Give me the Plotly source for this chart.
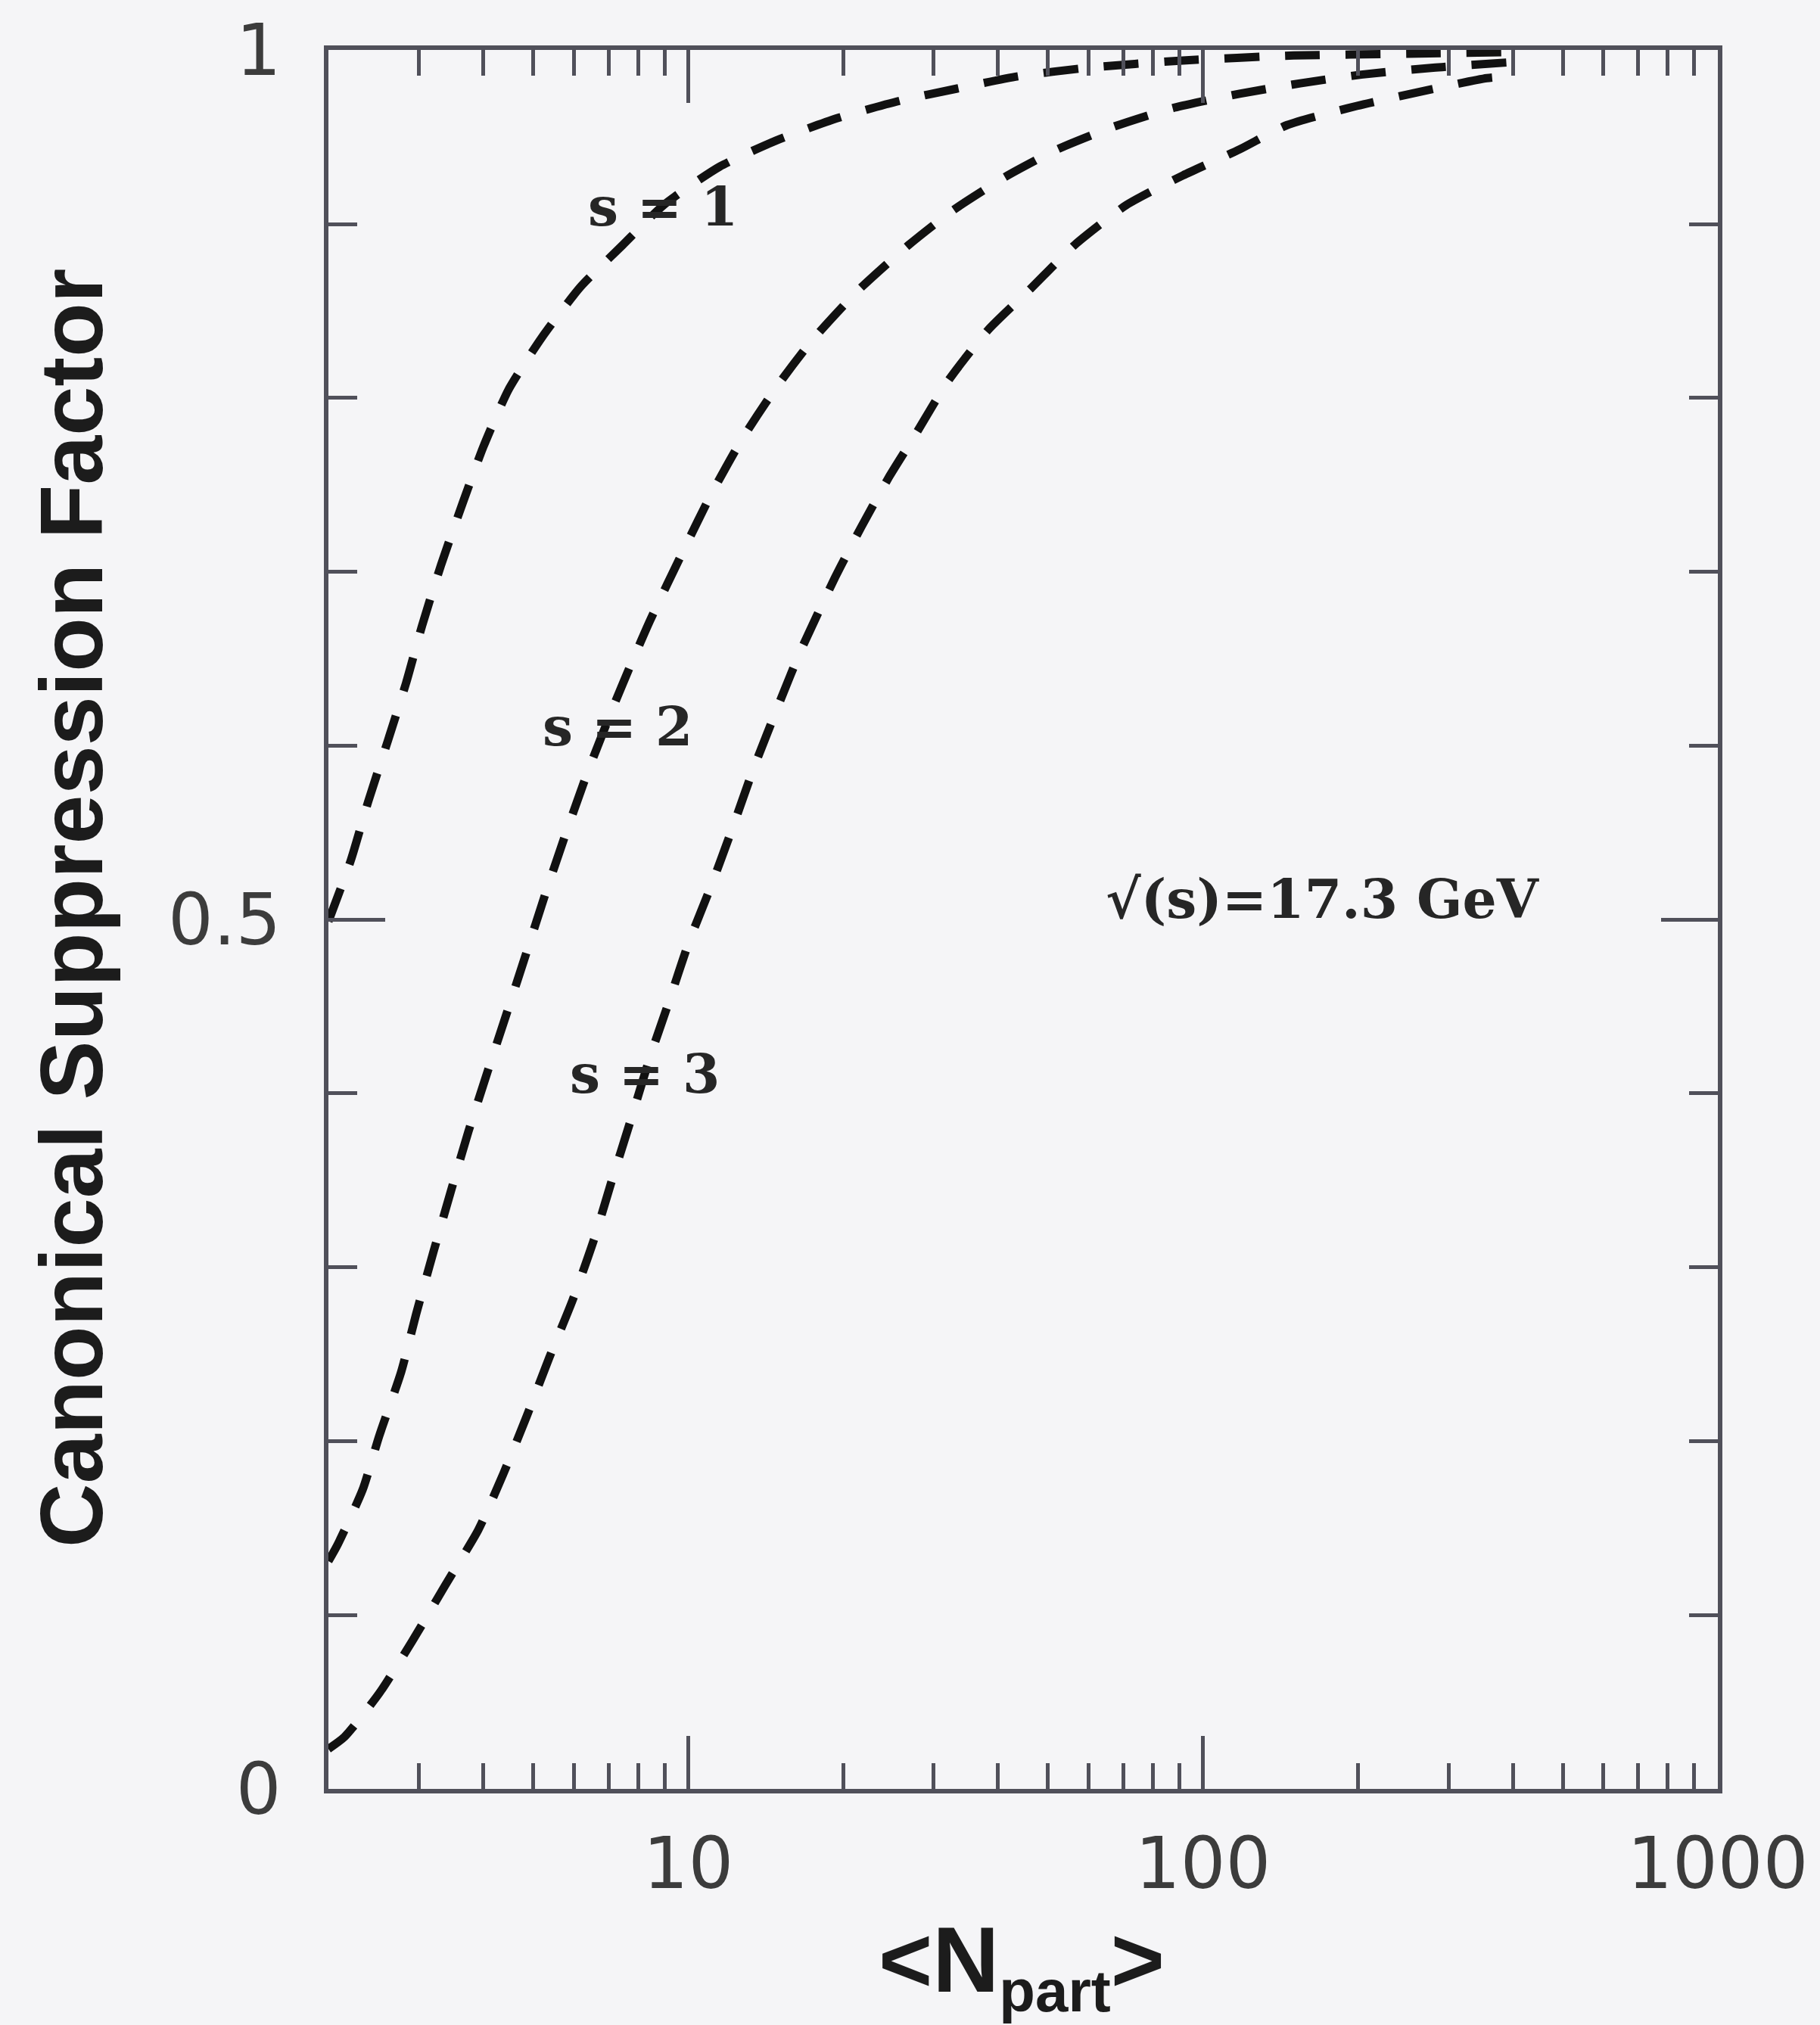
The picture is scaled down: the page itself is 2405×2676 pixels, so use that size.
import math
import plotly.graph_objects as go

# Canonical suppression factor vs. number of participants, sqrt(s)=17.3 GeV
n_part_s1 = [2.0, 2.21, 2.39, 2.61, 2.83, 3.04, 3.31, 3.64, 4.0, 4.48, 5.2, 6.18,
             7.46, 8.96, 11.5, 14.8, 19.5, 25.8, 33.3, 43.7, 60, 90, 150, 250, 390]
supp_s1 = [0.499, 0.534, 0.568, 0.603, 0.636, 0.669, 0.704, 0.739, 0.772, 0.805,
           0.835, 0.864, 0.888, 0.911, 0.933, 0.948, 0.961, 0.971, 0.978, 0.985,
           0.990, 0.994, 0.997, 0.998, 0.999]

n_part_s2 = [2.0, 2.08, 2.33, 2.51, 2.77, 2.96, 3.20, 3.46, 3.74, 4.08, 4.45, 4.85,
             5.28, 5.76, 6.38, 7.21, 7.72, 8.43, 9.85, 11.1, 12.7, 14.9, 17.5, 21.4,
             26.8, 32.7, 41.2, 52.1, 67.0, 87.9, 117.8, 154.5, 203, 280, 390]
supp_s2 = [0.131, 0.140, 0.172, 0.203, 0.240, 0.273, 0.309, 0.344, 0.378, 0.413,
           0.447, 0.481, 0.515, 0.548, 0.585, 0.625, 0.646, 0.672, 0.714, 0.745,
           0.776, 0.807, 0.834, 0.862, 0.888, 0.908, 0.927, 0.943, 0.956, 0.967,
           0.975, 0.981, 0.986, 0.990, 0.993]

n_part_s3 = [2.0, 2.15, 2.51, 2.91, 3.37, 3.91, 4.37, 4.85, 5.37, 5.96, 6.56, 7.09,
             7.72, 8.43, 9.18, 10.0, 11.1, 12.2, 13.4, 15.0, 16.5, 19.3, 21.7, 24.6,
             27.5, 32.0, 38.2, 46.3, 56.3, 71.0, 91.4, 117.8, 145.7, 199, 272, 356, 390]
supp_s3 = [0.023, 0.030, 0.055, 0.085, 0.117, 0.149, 0.181, 0.214, 0.248, 0.281,
           0.316, 0.349, 0.384, 0.421, 0.453, 0.486, 0.520, 0.553, 0.587, 0.624,
           0.654, 0.697, 0.726, 0.755, 0.778, 0.810, 0.839, 0.863, 0.888, 0.911,
           0.928, 0.943, 0.957, 0.968, 0.977, 0.984, 0.985]

x_major = [10, 100, 1000]
x_major_text = ["10", "100", "1000"]
x_minor = [3, 4, 5, 6, 7, 8, 9, 20, 30, 40, 50, 60, 70, 80, 90,
           200, 300, 400, 500, 600, 700, 800, 900]
y_major = [0, 0.5, 1]
y_major_text = ["0", "0.5", "1"]
y_minor = [0.1, 0.2, 0.3, 0.4, 0.6, 0.7, 0.8, 0.9]

# curve labels: (text, N_part, value)
curve_labels = [("s = 1", 8.93, 0.910), ("s = 2", 7.29, 0.611), ("s = 3", 8.23, 0.4115)]
energy_label = ("\u221a(s)=17.3 GeV", 171, 0.512)

BG = "#f5f5f7"
AXIS = "#50505a"
LINE = "#111111"

fig = go.Figure()
for xs, ys in [(n_part_s1, supp_s1), (n_part_s2, supp_s2), (n_part_s3, supp_s3)]:
    fig.add_trace(go.Scatter(
        x=xs, y=ys, mode="lines",
        line=dict(color=LINE, width=11, dash="46px,34px", shape="spline", smoothing=0.6),
        showlegend=False, hoverinfo="skip",
    ))

serif = dict(family="DejaVu Serif", size=71, color="#262626")
for text, xv, yv in curve_labels:
    fig.add_annotation(x=math.log10(xv), y=yv, xref="x", yref="y", text=f"<b>{text}</b>",
                       showarrow=False, font=serif, xanchor="center", yanchor="middle")
fig.add_annotation(x=math.log10(energy_label[1]), y=energy_label[2], xref="x", yref="y",
                   text=f"<b>{energy_label[0]}</b>", showarrow=False, font=serif,
                   xanchor="center", yanchor="middle")

# axis titles
fig.add_annotation(x=-0.1852, y=0.5065, xref="paper", yref="paper", textangle=-90,
                   text="<b>Canonical Suppression Factor</b>", showarrow=False,
                   font=dict(family="Liberation Sans", size=117, color="#1c1c1c"),
                   xanchor="center", yanchor="middle")
fig.add_annotation(x=0.499, y=-0.068, xref="paper", yref="paper",
                   text="<b>&lt;N<sub><span style='font-size:78px'>part</span></sub>&gt;</b>",
                   showarrow=False,
                   font=dict(family="Liberation Sans", size=122, color="#1c1c1c"),
                   xanchor="center", yanchor="top")

tickfont = dict(family="DejaVu Sans", size=94, color="#3c3c3c")
fig.update_xaxes(
    type="log", range=[math.log10(2), 3.0002],
    showline=True, linewidth=5.5, linecolor=AXIS, mirror="allticks",
    ticks="inside", ticklen=70, tickwidth=4.5, tickcolor=AXIS,
    tickmode="array", tickvals=x_major, ticktext=x_major_text,
    tickfont=tickfont, ticklabelstandoff=12,
    minor=dict(tickmode="array", tickvals=x_minor, ticks="inside",
               ticklen=34, tickwidth=4.5, tickcolor=AXIS, showgrid=False),
    showgrid=False, zeroline=False,
)
fig.update_yaxes(
    range=[0, 1.0002],
    showline=True, linewidth=5.5, linecolor=AXIS, mirror="allticks",
    ticks="inside", ticklen=75, tickwidth=4.5, tickcolor=AXIS,
    tickmode="array", tickvals=y_major, ticktext=y_major_text,
    tickfont=tickfont, ticklabelstandoff=38,
    minor=dict(tickmode="array", tickvals=y_minor, ticks="inside",
               ticklen=38, tickwidth=4.5, tickcolor=AXIS, showgrid=False),
    showgrid=False, zeroline=False,
)

fig.update_layout(
    width=2405, height=2676,
    margin=dict(l=434, r=135, t=58, b=312),
    paper_bgcolor=BG, plot_bgcolor=BG,
    showlegend=False,
)

fig.write_html("out.html")
